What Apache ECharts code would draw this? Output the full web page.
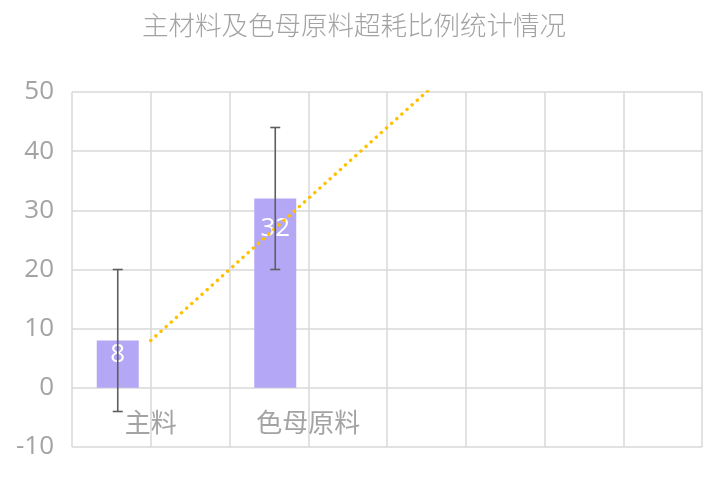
<!DOCTYPE html>
<html>
<head>
<meta charset="utf-8">
<script src="https://cdn.jsdelivr.net/npm/echarts@6/dist/echarts.min.js"></script>
<style>
html,body{margin:0;padding:0;background:#fff;}
#chart{width:718px;height:503px;}
</style>
</head>
<body>
<div id="chart"></div>
<script>
// ---- data ----
var titleText = '主材料及色母原料超耗比例统计情况';
var categories = ['主料', '色母原料', '', ''];
var barValues = [8, 32, null, null];
var errLow = [-4, 20, null, null];
var errHigh = [20, 44, null, null];
var trendValues = [8, 32, 56, null];
var yTicks = [-10, 0, 10, 20, 30, 40, 50];

// ---- styles ----
var FONT = "'Open Sans','Noto Sans CJK SC',sans-serif";
var GRAY = '#a3a3a3';
var GRID = '#d9d9d9';
var BAR_W = 42;
var BAR_GAP = 24;
var labelDist = [1, 17, 0, 0];

var chart = echarts.init(document.getElementById('chart'));

var barData = barValues.map(function (v, i) {
  return { value: v, label: { distance: labelDist[i] } };
});
var errData = categories.map(function (c, i) {
  return errLow[i] == null ? null : [i, errLow[i], errHigh[i]];
}).filter(function (d) { return d; });

var option = {
  animation: false,
  backgroundColor: '#fff',
  title: {
    text: titleText,
    left: 137,
    top: 9,
    textStyle: { fontFamily: FONT, fontSize: 26.5, fontWeight: 300, color: GRAY }
  },
  grid: { left: 72, right: 16, top: 92, bottom: 56, containLabel: false },
  xAxis: [{
    type: 'category',
    data: categories,
    boundaryGap: true,
    position: 'bottom',
    axisLine: { show: false, onZero: false },
    axisTick: { show: false },
    splitLine: { show: false },
    axisLabel: { fontFamily: FONT, fontSize: 26, color: GRAY, margin: -35, interval: 0 },
    z: 10
  }, {
    type: 'value',
    min: 0, max: 8, interval: 1,
    position: 'top',
    axisLine: { show: false, onZero: false },
    axisTick: { show: false },
    axisLabel: { show: false },
    splitLine: { show: true, lineStyle: { color: GRID, width: 1.5 } }
  }],
  yAxis: {
    type: 'value',
    min: yTicks[0], max: yTicks[yTicks.length - 1], interval: 10,
    axisLine: { show: false },
    axisTick: { show: false },
    axisLabel: { fontFamily: FONT, fontSize: 26, color: GRAY, margin: 18 },
    splitLine: { show: true, lineStyle: { color: GRID, width: 1.5 } }
  },
  series: [{
    type: 'bar',
    name: '超耗比例',
    xAxisIndex: 0,
    data: barData,
    barWidth: BAR_W,
    barGap: (BAR_GAP / BAR_W * 100) + '%',
    itemStyle: { color: '#b4a7f5' },
    label: {
      show: true, position: 'insideTop',
      fontFamily: FONT, fontSize: 26, color: '#ffffff'
    },
    z: 2
  }, {
    type: 'bar',
    name: 'placeholder',
    xAxisIndex: 0,
    data: [null, null, null, null],
    barWidth: BAR_W
  }, {
    type: 'custom',
    name: 'error',
    xAxisIndex: 0,
    data: errData,
    z: 5,
    renderItem: function (params, api) {
      var lo = api.coord([api.value(0), api.value(1)]);
      var hi = api.coord([api.value(0), api.value(2)]);
      var x = lo[0] - (BAR_W + BAR_GAP) / 2;
      var style = { stroke: '#5e5e5e', lineWidth: 1.6 };
      return {
        type: 'group',
        children: [
          { type: 'line', shape: { x1: x, y1: lo[1], x2: x, y2: hi[1] }, style: style },
          { type: 'line', shape: { x1: x - 5, y1: lo[1], x2: x + 5, y2: lo[1] }, style: style },
          { type: 'line', shape: { x1: x - 5, y1: hi[1], x2: x + 5, y2: hi[1] }, style: style }
        ]
      };
    }
  }, {
    type: 'line',
    name: 'trend',
    xAxisIndex: 0,
    data: trendValues,
    symbol: 'none',
    clip: true,
    lineStyle: { color: '#ffc000', width: 3.4, type: [0.1, 6.8], cap: 'round' },
    z: 4
  }]
};
chart.setOption(option);
</script>
</body>
</html>
